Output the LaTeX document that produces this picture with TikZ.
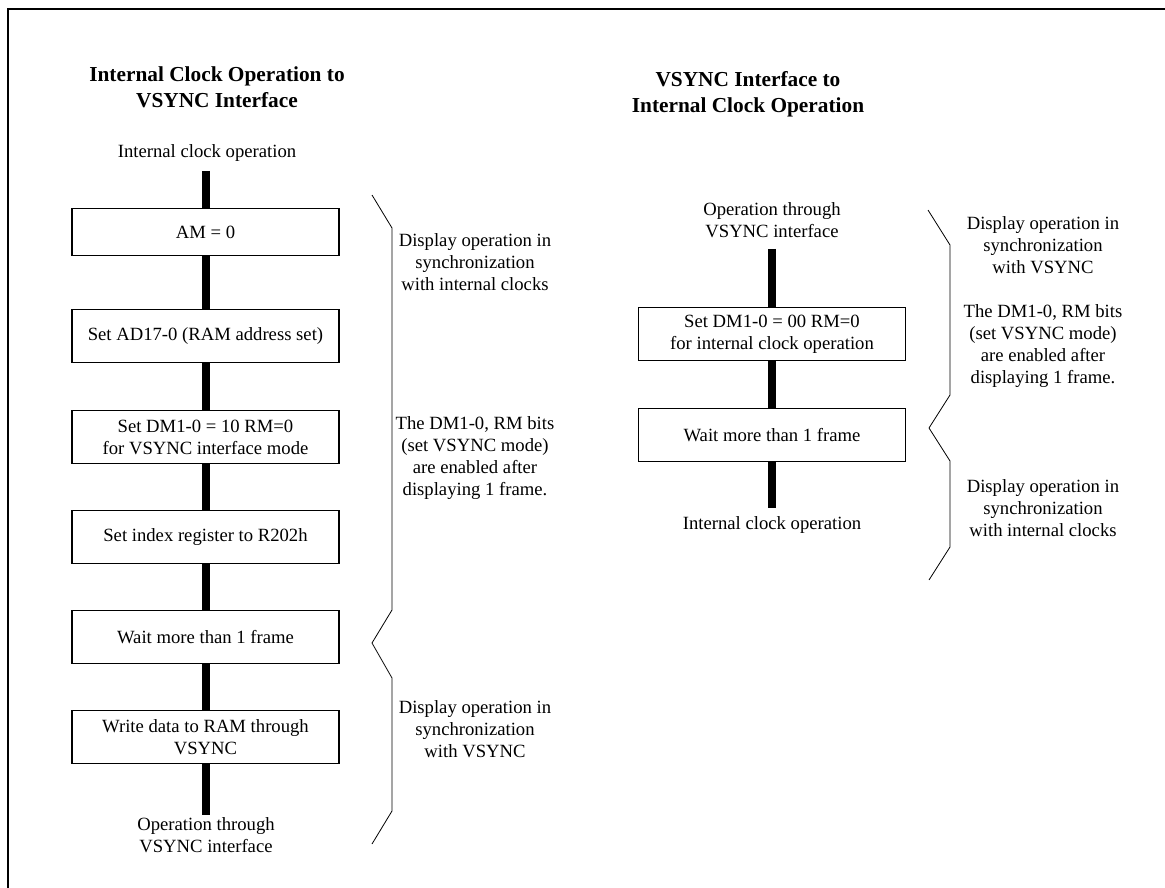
\documentclass[tikz,border=0pt]{standalone}
\usepackage{fontspec}
\setmainfont{Liberation Serif}
\usetikzlibrary{positioning}
\begin{document}
\begin{tikzpicture}[
    x=0.75pt, y=-0.75pt,
    stage/.style={draw, line width=1.2pt, fill=white, minimum width=200pt,
                  minimum height=40pt, inner sep=2pt, align=center,
                  font=\fontsize{14}{16.5}\selectfont},
    note/.style={align=center, inner sep=0pt, font=\fontsize{14}{16.5}\selectfont},
    heading/.style={align=center, inner sep=0pt, font=\fontsize{16}{19.5}\selectfont\bfseries},
    bar/.style={line width=6pt},
    brace/.style={line width=0.6pt}
  ]
  \useasboundingbox (0,0) rectangle (1165,888);

  % Moldura (so topo e lado esquerdo)
  \draw[line width=2pt] (8,888) -- (8,9) -- (1165,9);

  % Coluna esquerda: interno -> VSYNC
  \node[heading] (ltitle) at (217,87) {Internal Clock Operation to\\VSYNC Interface};
  \node[note] (lin) at (207,153) {Internal clock operation};
  \coordinate (ltop) at (205.5,171);
  \node[stage, minimum height=35pt] (s1) at (205.5,232) {AM = 0};
  \node[stage] (s2) at (205.5,336) {Set AD17-0 (RAM address set)};
  \node[stage] (s3) at (205.5,437) {Set DM1-0 = 10 RM=0\\for VSYNC interface mode};
  \node[stage] (s4) at (205.5,537) {Set index register to R202h};
  \node[stage] (s5) at (205.5,637) {Wait more than 1 frame};
  \node[stage] (s6) at (205.5,737) {Write data to RAM through\\VSYNC};
  \coordinate (lbot) at (205.5,815);
  \node[note] (lout) at (206,835) {Operation through\\VSYNC interface};

  \draw[bar] (ltop) -- (s1);
  \draw[bar] (s1) -- (s2);
  \draw[bar] (s2) -- (s3);
  \draw[bar] (s3) -- (s4);
  \draw[bar] (s4) -- (s5);
  \draw[bar] (s5) -- (s6);
  \draw[bar] (s6) -- (lbot);

  % Chave e comentarios da esquerda
  \draw[brace] (372,195) -- (392,228) -- (392,610) -- (372,643)
               -- (392,678) -- (392,811) -- (372,844);
  \node[note] (lnote1) at (475,262) {Display operation in\\synchronization\\with internal clocks};
  \node[note] (lnote2) at (475,458) {The DM1-0, RM bits\\(set VSYNC mode)\\are enabled after\\displaying 1 frame.};
  \node[note] (lnote3) at (475,729) {Display operation in\\synchronization\\with VSYNC};

  % Coluna direita: VSYNC -> interno
  \node[heading] (rtitle) at (748,94) {VSYNC Interface to\\Internal Clock Operation};
  \node[note] (rin) at (772,220) {Operation through\\VSYNC interface};
  \coordinate (rtop) at (772,249);
  \node[stage] (r1) at (772,334) {Set DM1-0 = 00 RM=0\\for internal clock operation};
  \node[stage] (r2) at (772,435) {Wait more than 1 frame};
  \coordinate (rbot) at (772,508);
  \node[note] (rout) at (772,525) {Internal clock operation};

  \draw[bar] (rtop) -- (r1);
  \draw[bar] (r1) -- (r2);
  \draw[bar] (r2) -- (rbot);

  % Chave e comentarios da direita
  \draw[brace] (928,210) -- (950,245) -- (950,395) -- (929,428)
               -- (950,461) -- (950,547) -- (929,580);
  \node[note] (rnote1) at (1043,245) {Display operation in\\synchronization\\with VSYNC};
  \node[note] (rnote2) at (1043,346) {The DM1-0, RM bits\\(set VSYNC mode)\\are enabled after\\displaying 1 frame.};
  \node[note] (rnote3) at (1043,508) {Display operation in\\synchronization\\with internal clocks};
\end{tikzpicture}
\end{document}
